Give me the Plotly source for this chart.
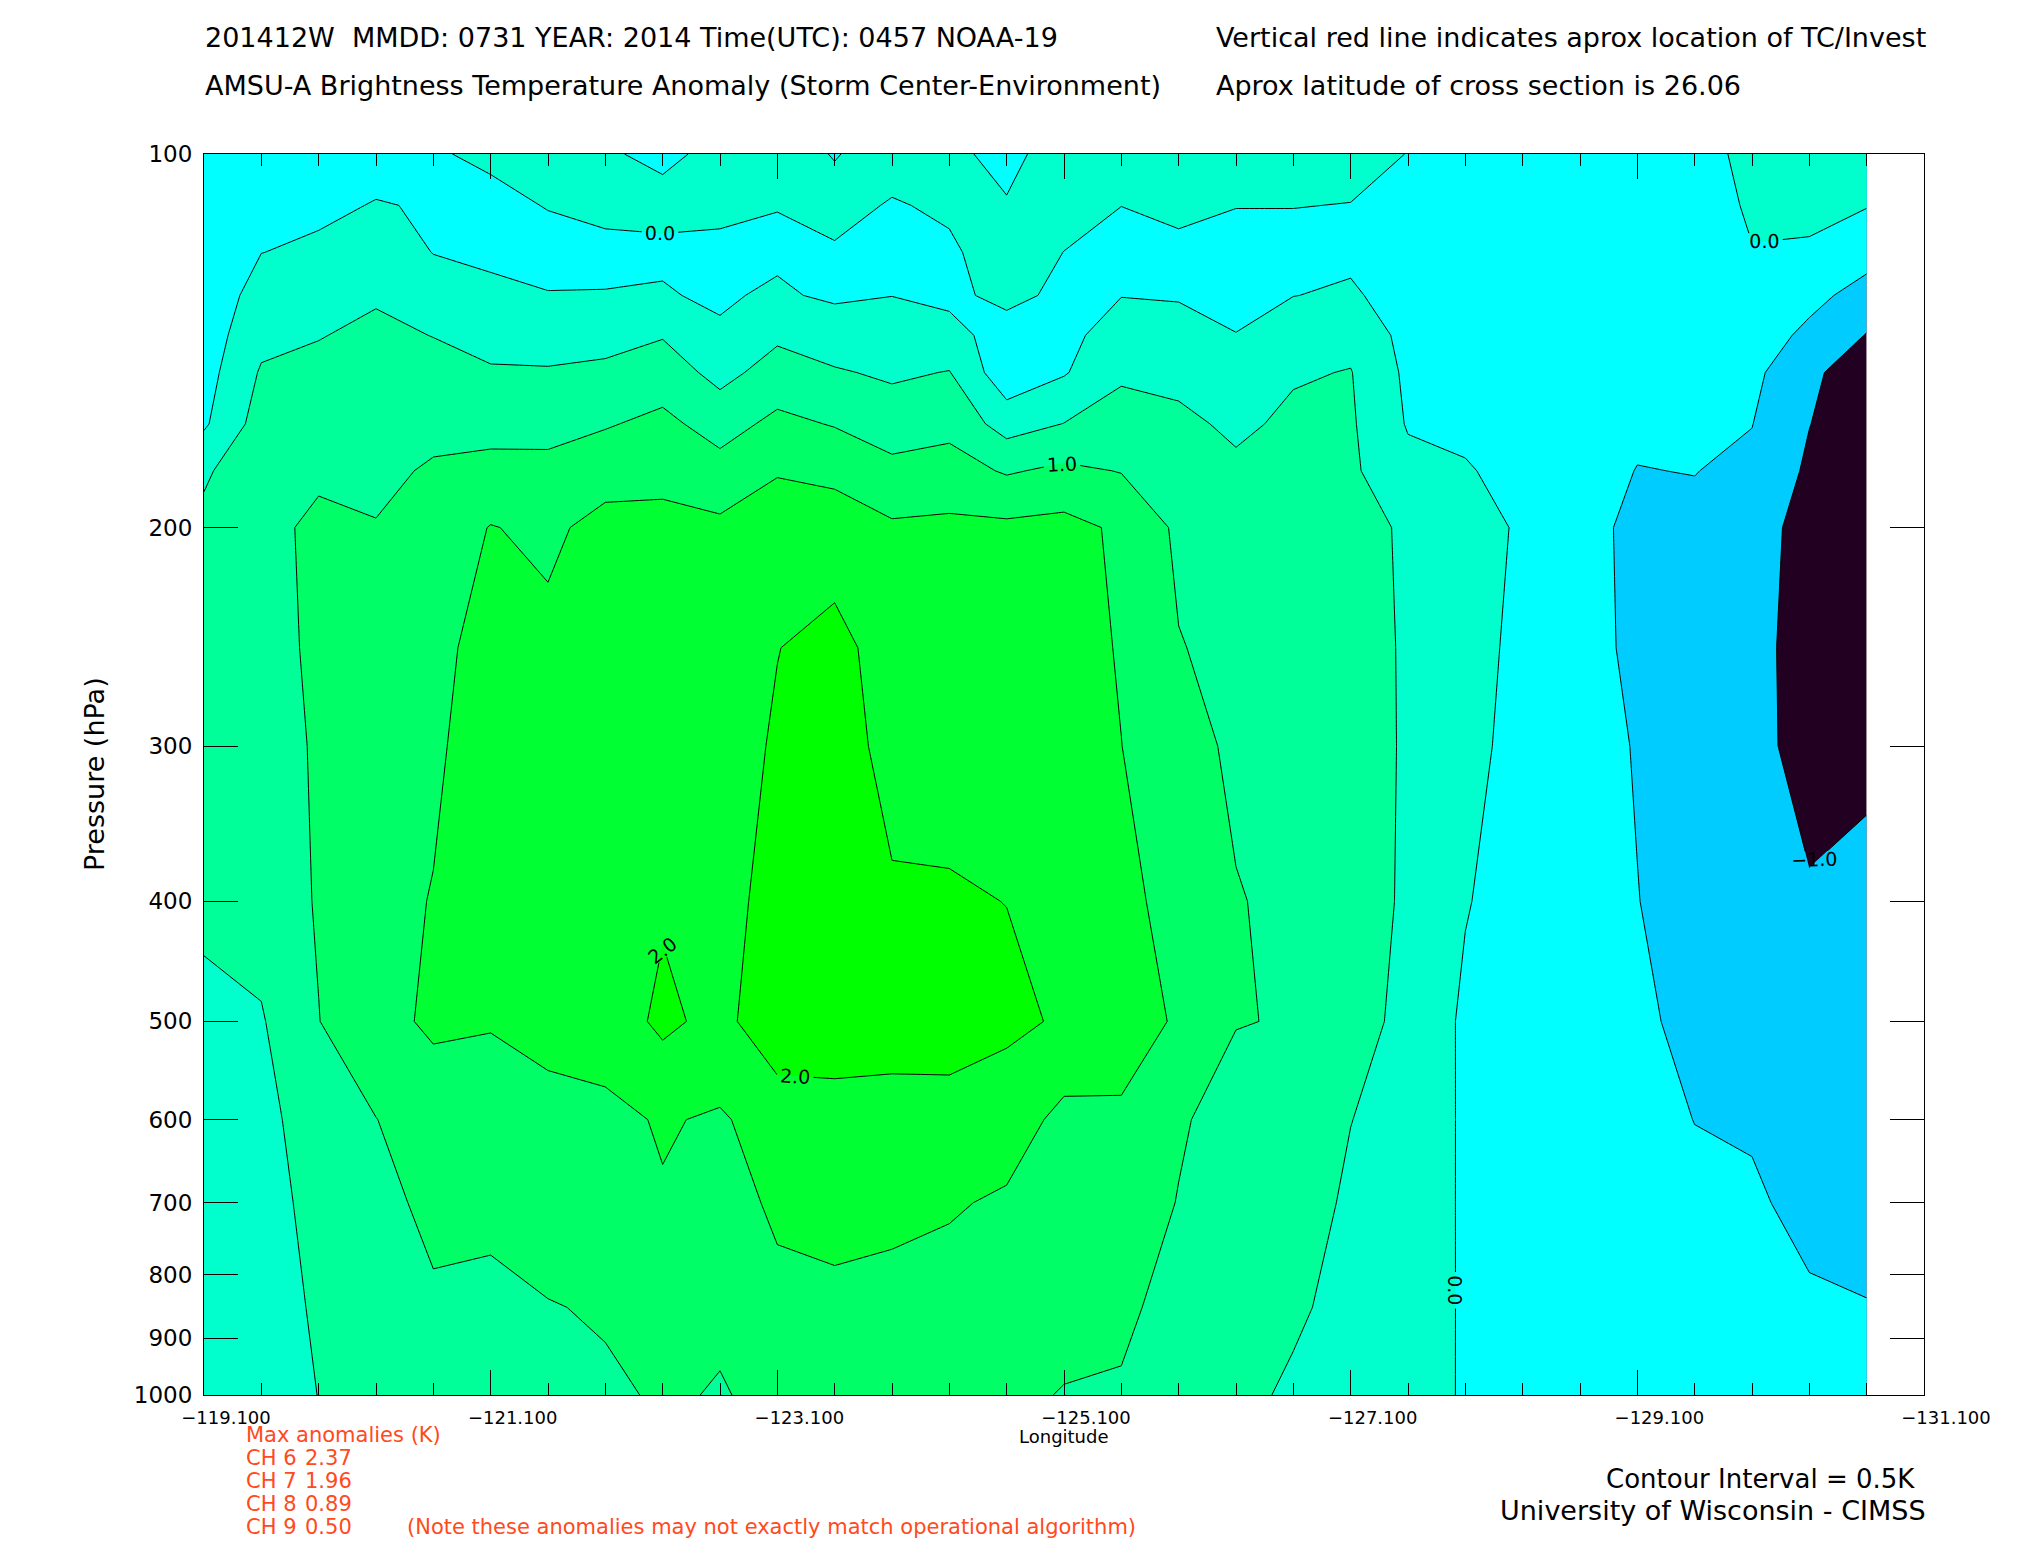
import plotly.graph_objects as go

# ---------------- data ----------------
longitude = [-119.1, -119.5, -119.9, -120.3, -120.7, -121.1, -121.5, -121.9, -122.3, -122.7,
             -123.1, -123.5, -123.9, -124.3, -124.7, -125.1, -125.5, -125.9, -126.3, -126.7,
             -127.1, -127.5, -127.9, -128.3, -128.7, -129.1, -129.5, -129.9, -130.3, -130.7]

pressure = [100, 110, 120, 130, 140, 150, 165, 180, 200, 250, 300, 400, 500, 600, 700, 850, 1000]

# brightness temperature anomaly (K), one list per pressure level, in the order of the longitude list
anom_100 = [-0.35, -0.20, -0.22, -0.15, -0.02, 0.04, 0.05, 0.02, -0.04, 0.05, 0.08, -0.01, 0.08, 0.06, -0.08,
            0.14, 0.10, 0.08, 0.10, 0.10, 0.08, -0.005, -0.10, -0.15, -0.13, -0.12, -0.11, 0.08, 0.10, 0.10]
anom_110 = [-0.35, -0.10, -0.08, 0.02, -0.03, -0.06, 0.01, 0.03, 0.06, 0.05, 0.01, 0.06, -0.015, 0.03, 0.02,
            0.07, 0.002, 0.04, 0.005, 0.005, -0.005, -0.05, -0.15, -0.20, -0.17, -0.16, -0.15, 0.04, 0.04, 0.02]
anom_120 = [-0.33, -0.005, 0.07, 0.24, -0.01, -0.07, -0.08, -0.03, -0.04, -0.05, -0.06, -0.02, -0.06, -0.03, 0.10,
            -0.002, -0.08, -0.04, -0.07, -0.07, -0.06, -0.10, -0.20, -0.25, -0.22, -0.20, -0.20, -0.01, -0.02, -0.30]
anom_130 = [-0.30, 0.18, 0.26, 0.45, 0.20, 0.08, 0.01, 0.005, 0.02, -0.04, 0.05, -0.06, -0.005, -0.10, 0.12,
            -0.10, -0.01, -0.03, -0.06, -0.005, 0.04, -0.13, -0.22, -0.28, -0.26, -0.25, -0.25, -0.12, -0.35, -0.70]
anom_140 = [-0.26, 0.36, 0.48, 0.60, 0.49, 0.30, 0.25, 0.30, 0.47, 0.04, 0.42, 0.22, 0.20, 0.15, -0.20,
            -0.12, 0.20, 0.15, 0.005, 0.18, 0.35, -0.15, -0.22, -0.30, -0.30, -0.30, -0.30, -0.22, -0.62, -1.02]
anom_150 = [-0.20, 0.55, 0.62, 0.70, 0.66, 0.56, 0.55, 0.62, 0.75, 0.35, 0.70, 0.55, 0.42, 0.52, -0.33,
            -0.04, 0.42, 0.35, 0.18, 0.45, 0.52, -0.10, -0.18, -0.30, -0.32, -0.35, -0.36, -0.38, -0.90, -1.28]
anom_165 = [-0.07, 0.72, 0.80, 0.80, 0.88, 0.85, 0.88, 0.96, 1.12, 0.80, 1.12, 0.97, 0.78, 0.86, 0.29,
            0.51, 0.72, 0.62, 0.40, 0.60, 0.56, -0.04, -0.08, -0.22, -0.33, -0.43, -0.43, -0.49, -0.99, -1.32]
anom_180 = [0.43, 0.85, 0.96, 0.90, 1.05, 1.13, 1.10, 1.30, 1.38, 1.18, 1.47, 1.38, 1.12, 1.20, 0.95,
            1.10, 0.98, 0.80, 0.60, 0.68, 0.58, 0.14, 0.03, -0.12, -0.34, -0.51, -0.49, -0.60, -1.08, -1.33]
anom_200 = [0.62, 0.93, 1.05, 1.02, 1.20, 1.52, 1.40, 1.66, 1.62, 1.60, 1.72, 1.75, 1.57, 1.60, 1.60,
            1.65, 1.42, 0.91, 0.75, 0.74, 0.60, 0.46, 0.16, -0.05, -0.36, -0.60, -0.60, -0.83, -1.15, -1.30]
anom_250 = [0.78, 0.92, 1.04, 1.20, 1.35, 1.70, 1.62, 1.80, 1.80, 1.75, 1.99, 2.15, 1.78, 1.75, 1.78,
            1.75, 1.456, 1.02, 0.88, 0.80, 0.61, 0.47, 0.15, -0.10, -0.33, -0.60, -0.72, -0.85, -1.20, -1.20]
anom_300 = [0.80, 0.88, 1.03, 1.30, 1.42, 1.75, 1.75, 1.85, 1.85, 1.80, 2.05, 2.20, 1.86, 1.85, 1.85,
            1.82, 1.505, 1.15, 0.93, 0.85, 0.62, 0.47, 0.12, -0.135, -0.30, -0.53, -0.75, -0.85, -1.18, -1.08]
anom_400 = [0.60, 0.70, 1.04, 1.35, 1.52, 1.78, 1.85, 1.90, 1.94, 1.85, 2.15, 2.28, 2.05, 2.04, 1.995,
            1.88, 1.60, 1.37, 1.02, 0.92, 0.63, 0.46, 0.03, -0.23, -0.30, -0.49, -0.70, -0.75, -0.95, -0.90]
anom_500 = [0.38, 0.46, 0.99, 1.38, 1.56, 1.52, 1.60, 1.70, 2.11, 1.845, 2.36, 2.35, 2.32, 2.30, 2.09,
            1.95, 1.60, 1.475, 1.02, 0.97, 0.60, 0.43, -0.09, -0.30, -0.30, -0.415, -0.62, -0.62, -0.80, -0.78]
anom_600 = [0.30, 0.35, 0.76, 0.99, 1.30, 1.35, 1.40, 1.40, 1.535, 1.45, 1.70, 1.75, 1.72, 1.75, 1.76,
            1.36, 1.467, 1.06, 0.79, 0.75, 0.505, 0.38, -0.079, -0.30, -0.30, -0.37, -0.505, -0.54, -0.70, -0.68]
anom_700 = [0.25, 0.30, 0.66, 0.85, 1.12, 1.10, 1.22, 1.25, 1.47, 1.30, 1.58, 1.62, 1.58, 1.55, 1.43,
            1.30, 1.30, 0.98, 0.72, 0.65, 0.45, 0.32, -0.067, -0.28, -0.28, -0.33, -0.42, -0.45, -0.60, -0.60]
anom_850 = [0.18, 0.22, 0.58, 0.70, 0.93, 0.90, 0.98, 1.04, 1.25, 1.055, 1.38, 1.42, 1.40, 1.30, 1.20,
            1.166, 1.08, 0.86, 0.66, 0.56, 0.38, 0.25, -0.052, -0.25, -0.26, -0.30, -0.35, -0.38, -0.45, -0.49]
anom_1000 = [0.12, 0.15, 0.51, 0.65, 0.85, 0.80, 0.90, 0.94, 1.04, 0.979, 1.08, 1.20, 1.20, 1.20, 1.10,
             0.977, 0.96, 0.78, 0.60, 0.44, 0.32, 0.20, -0.042, -0.22, -0.24, -0.27, -0.30, -0.32, -0.35, -0.40]

lon_tick_values = [-119.1, -121.1, -123.1, -125.1, -127.1, -129.1, -131.1]
lon_tick_labels = ["\u2212119.100", "\u2212121.100", "\u2212123.100", "\u2212125.100",
                   "\u2212127.100", "\u2212129.100", "\u2212131.100"]
p_tick_values = [100, 200, 300, 400, 500, 600, 700, 800, 900, 1000]
p_tick_labels = ["100", "200", "300", "400", "500", "600", "700", "800", "900", "1000"]

max_anomaly_channels = ["CH 6", "CH 7", "CH 8", "CH 9"]
max_anomaly_values = ["2.37", "1.96", "0.89", "0.50"]

# ---------------- figure ----------------
z = [anom_100, anom_110, anom_120, anom_130, anom_140, anom_150, anom_165, anom_180, anom_200,
     anom_250, anom_300, anom_400, anom_500, anom_600, anom_700, anom_850, anom_1000]

FONT = "DejaVu Sans"
W, H = 2025, 1550
BODY = 8                       # default page margin of the html body
PLOT_X0, PLOT_X1 = 204, 1924   # plot frame on the page (px)
PLOT_Y0, PLOT_Y1 = 154, 1395
PW, PH = PLOT_X1 - PLOT_X0, PLOT_Y1 - PLOT_Y0
ML, MT = PLOT_X0 - BODY, PLOT_Y0 - BODY
MR, MB = W - ML - PW, H - MT - PH


def px(x):
    return (x - PLOT_X0) / PW


def py(y):
    return (PLOT_Y1 - y) / PH


band_colors = [
    [0 / 7, "#220022"],
    [1 / 7, "#00CCFF"],
    [2 / 7, "#00FFFF"],
    [3 / 7, "#00FFCC"],
    [4 / 7, "#00FF99"],
    [5 / 7, "#00FF66"],
    [6 / 7, "#00FF33"],
    [7 / 7, "#00FF00"],
]

fig = go.Figure()

fig.add_trace(go.Contour(
    x=longitude, y=pressure, z=z,
    autocontour=False,
    contours=dict(coloring="fill", start=-1.0, end=2.0, size=0.5, showlines=False),
    colorscale=band_colors, showscale=False,
    line=dict(width=0, smoothing=0),
    hoverinfo="skip",
))

# half-degree contour lines (unlabelled)
fig.add_trace(go.Contour(
    x=longitude, y=pressure, z=z,
    autocontour=False,
    contours=dict(coloring="none", start=-0.5, end=1.5, size=1.0, showlabels=False),
    line=dict(color="black", width=1, smoothing=0),
    showscale=False, hoverinfo="skip",
))

# whole-degree contour lines (labelled)
fig.add_trace(go.Contour(
    x=longitude, y=pressure, z=z,
    autocontour=False,
    contours=dict(coloring="none", start=-1.0, end=2.0, size=1.0, showlabels=True,
                  labelformat=".1f",
                  labelfont=dict(family=FONT, size=19, color="black")),
    line=dict(color="black", width=1, smoothing=0),
    showscale=False, hoverinfo="skip",
))

fig.update_layout(
    width=W, height=H,
    margin=dict(l=ML, r=MR, t=MT, b=MB, pad=0),
    paper_bgcolor="white", plot_bgcolor="white",
    showlegend=False,
    font=dict(family=FONT, color="black"),
    xaxis=dict(
        range=[-119.1, -131.1],
        tickmode="array", tickvals=lon_tick_values, ticktext=lon_tick_labels,
        ticks="inside", ticklen=25, tickwidth=1, tickcolor="black",
        minor=dict(tickmode="linear", tick0=-119.1, dtick=0.4, ticks="inside",
                   ticklen=12, tickwidth=1, tickcolor="black", showgrid=False),
        showline=True, linecolor="black", linewidth=1, mirror="ticks",
        showgrid=False, zeroline=False,
        tickfont=dict(family=FONT, size=18, color="black"),
        ticklabelshift=-22, ticklabelstandoff=6,
    ),
    yaxis=dict(
        type="log", range=[3, 2],
        tickmode="array", tickvals=p_tick_values, ticktext=p_tick_labels,
        ticks="inside", ticklen=34, tickwidth=1, tickcolor="black",
        showline=True, linecolor="black", linewidth=1, mirror="ticks",
        showgrid=False, zeroline=False,
        tickfont=dict(family=FONT, size=23, color="black"),
        ticklabelstandoff=6,
    ),
)

ann = []


def add_text(text, x, y, size, color="black", xanchor="left", angle=0):
    ann.append(dict(text=text, x=px(x), y=py(y), xref="paper", yref="paper",
                    xanchor=xanchor, yanchor="middle", showarrow=False, textangle=angle,
                    font=dict(family=FONT, size=size, color=color)))


add_text("201412W  MMDD: 0731 YEAR: 2014 Time(UTC): 0457 NOAA-19", 203, 37, 27)
add_text("AMSU-A Brightness Temperature Anomaly (Storm Center-Environment)", 203, 85, 27)
add_text("Vertical red line indicates aprox location of TC/Invest", 1214, 37, 27)
add_text("Aprox latitude of cross section is 26.06", 1214, 85, 27)

add_text("Pressure (hPa)", 94, 774, 27, xanchor="center", angle=-90)
add_text("Longitude", 1064, 1436, 18, xanchor="center")

RED = "#FF4A1C"
add_text("Max anomalies (K)", 244, 1435, 21, RED)
for i, (ch, val) in enumerate(zip(max_anomaly_channels, max_anomaly_values)):
    yy = 1458 + i * 23
    add_text(ch, 244, yy, 21, RED)
    add_text(val, 303, yy, 21, RED)
add_text("(Note these anomalies may not exactly match operational algorithm)", 405, 1527, 21, RED)

add_text("Contour Interval = 0.5K", 1917, 1479, 26, xanchor="right")
add_text("University of Wisconsin - CIMSS", 1928, 1510, 27, xanchor="right")

fig.update_layout(annotations=ann)

fig.write_html("out.html")
